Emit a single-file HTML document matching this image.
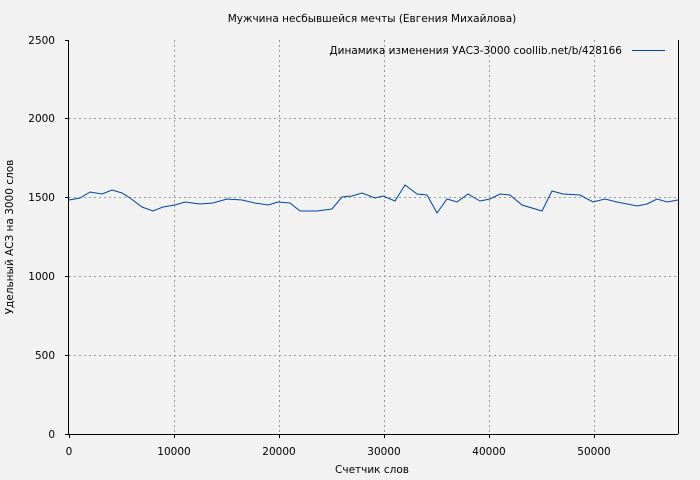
<!DOCTYPE html>
<html><head><meta charset="utf-8"><style>
body{margin:0;background:#f2f2f2;}
svg{display:block;font-family:"DejaVu Sans","Liberation Sans",sans-serif;font-size:10.5px;}
</style></head><body>
<svg width="700" height="480" viewBox="0 0 700 480">
<rect width="700" height="480" fill="#f2f2f2"/>
<text x="372" y="22" text-anchor="middle">Мужчина несбывшейся мечты (Евгения Михайлова)</text>
<g stroke="#999" stroke-dasharray="2,3" stroke-width="1">
<line x1="69" y1="355.5" x2="678" y2="355.5"/>
<line x1="69" y1="276.5" x2="678" y2="276.5"/>
<line x1="69" y1="197.5" x2="678" y2="197.5"/>
<line x1="69" y1="118.5" x2="678" y2="118.5"/>
<line x1="174.5" y1="40" x2="174.5" y2="434"/>
<line x1="279.5" y1="40" x2="279.5" y2="434"/>
<line x1="384.5" y1="40" x2="384.5" y2="434"/>
<line x1="489.5" y1="40" x2="489.5" y2="434"/>
<line x1="594.5" y1="40" x2="594.5" y2="434"/>
</g>
<g stroke="#000" stroke-width="1">
<line x1="68.5" y1="40" x2="68.5" y2="434"/>
<line x1="65" y1="434.5" x2="678" y2="434.5"/>
<line x1="678.5" y1="40" x2="678.5" y2="434"/>
<line x1="65" y1="355.5" x2="69" y2="355.5"/>
<line x1="65" y1="276.5" x2="69" y2="276.5"/>
<line x1="65" y1="197.5" x2="69" y2="197.5"/>
<line x1="65" y1="118.5" x2="69" y2="118.5"/>
<line x1="65" y1="40.5" x2="69" y2="40.5"/>
<line x1="69.5" y1="434" x2="69.5" y2="438"/>
<line x1="174.5" y1="434" x2="174.5" y2="438"/>
<line x1="279.5" y1="434" x2="279.5" y2="438"/>
<line x1="384.5" y1="434" x2="384.5" y2="438"/>
<line x1="489.5" y1="434" x2="489.5" y2="438"/>
<line x1="594.5" y1="434" x2="594.5" y2="438"/>
</g>
<g text-anchor="end">
<text x="55" y="438">0</text>
<text x="55" y="359">500</text>
<text x="55" y="280">1000</text>
<text x="55" y="201">1500</text>
<text x="55" y="122">2000</text>
<text x="55" y="44">2500</text>
</g>
<g text-anchor="middle">
<text x="69" y="455">0</text>
<text x="174" y="455">10000</text>
<text x="279" y="455">20000</text>
<text x="384" y="455">30000</text>
<text x="489" y="455">40000</text>
<text x="594" y="455">50000</text>
<text x="372" y="473">Счетчик слов</text>
</g>
<text transform="translate(13,237) rotate(-90)" text-anchor="middle">Удельный АСЗ на 3000 слов</text>
<text x="622" y="54" text-anchor="end">Динамика изменения УАСЗ-3000  coollib.net/b/428166</text>
<line x1="632" y1="50.5" x2="665" y2="50.5" stroke="#0044aa" stroke-width="1"/>
<polyline fill="none" stroke="#0044aa" stroke-width="1" points="69,200 80,198 90,192 102,194 112,190 122,193 130,198 142,207 153,211 163,207 175,205 185,202 200,204 213,203 227,199 242,200 255,203 268,205 278,202 290,203 300,211 317,211 332,209 342,197 352,196 362,193 375,198 383,196 395,201 405,185 417,194 427,195 437,213 447,199 457,202 468,194 480,201 490,199 500,194 510,195 522,205 542,211 552,191 563,194 580,195 593,202 605,199 617,202 637,206 647,204 657,199 667,202 678,200"/>
</svg>
</body></html>
